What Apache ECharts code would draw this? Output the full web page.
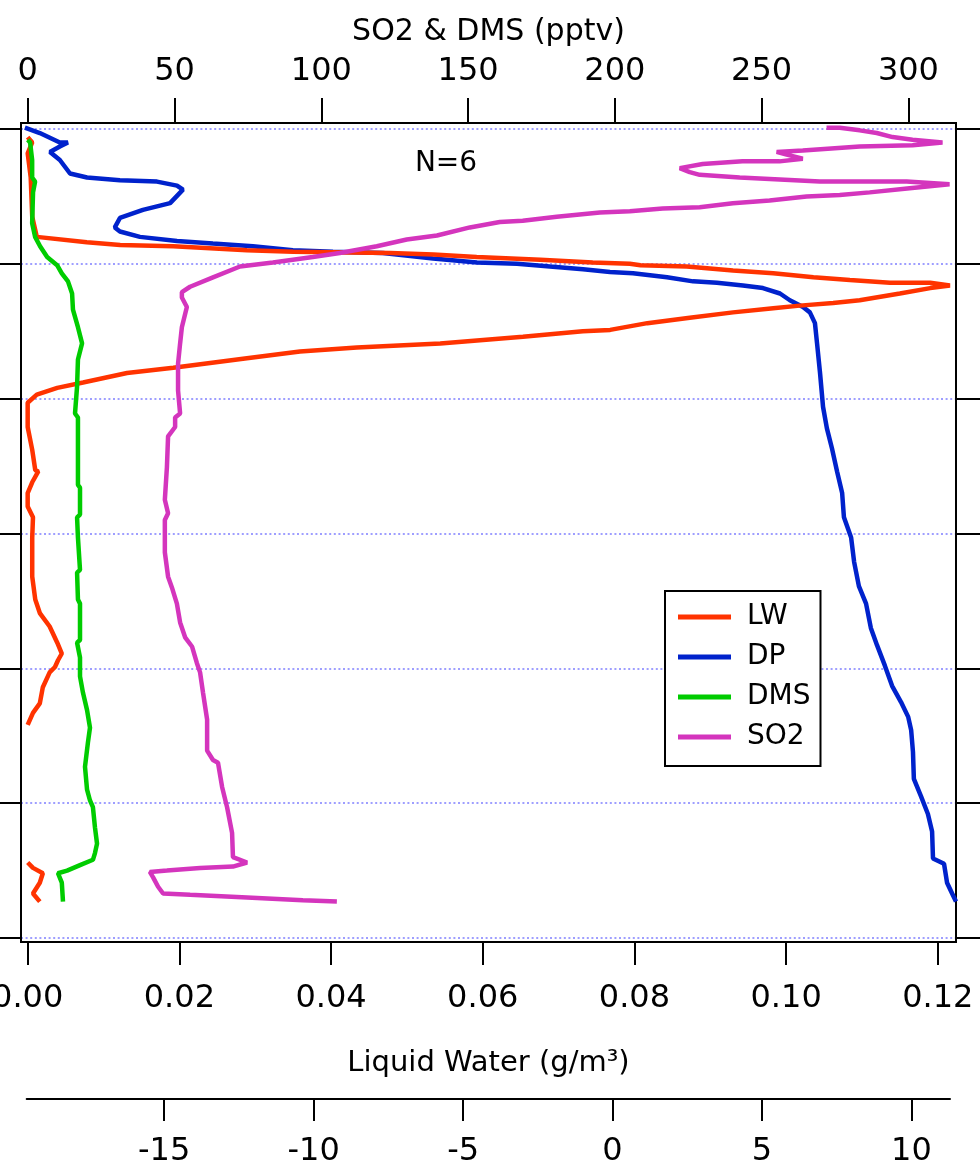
<!DOCTYPE html>
<html>
<head>
<meta charset="utf-8">
<script src="https://cdn.jsdelivr.net/npm/echarts@6/dist/echarts.min.js"></script>
<style>
html,body{margin:0;padding:0;background:#fff;}
#chart{width:980px;height:1167px;}
</style>
</head>
<body>
<div id="chart"></div>
<script>
// Profile data: [value, level] where level is the vertical position (0 = bottom gridline, 6 = top gridline)
const lwUpper = [[0.0000,5.94],[0.0006,5.90],[0.0000,5.82],[0.0004,5.64],[0.0006,5.35],[0.0012,5.20],[0.0078,5.16],[0.0122,5.14],[0.0192,5.13],[0.0289,5.10],[0.0350,5.09],[0.0478,5.08],[0.0535,5.07],[0.0592,5.05],[0.0676,5.03],[0.0745,5.01],[0.0794,5.00],[0.0808,4.99],[0.0869,4.98],[0.0930,4.95],[0.0983,4.93],[0.1036,4.90],[0.1084,4.88],[0.1137,4.86],[0.1190,4.86],[0.1216,4.84],[0.1190,4.82],[0.1150,4.78],[0.1097,4.73],[0.1062,4.71],[0.1018,4.69],[0.0983,4.67],[0.0930,4.64],[0.0873,4.60],[0.0817,4.56],[0.0768,4.51],[0.0732,4.50],[0.0653,4.46],[0.0544,4.41],[0.0434,4.38],[0.0359,4.35],[0.0289,4.30],[0.0192,4.23],[0.0131,4.19],[0.0073,4.12],[0.0039,4.08],[0.0012,4.03],[0.0000,3.97],[0.0000,3.79],[0.0006,3.62],[0.0010,3.47],[0.0014,3.46],[0.0006,3.38],[0.0000,3.30],[0.0000,3.20],[0.0007,3.12],[0.0006,2.97],[0.0006,2.68],[0.0010,2.51],[0.0016,2.41],[0.0029,2.31],[0.0039,2.19],[0.0045,2.11],[0.0040,2.06],[0.0036,2.01],[0.0029,1.97],[0.0020,1.86],[0.0016,1.74],[0.0007,1.67],[0.0000,1.58]];
const lwLower = [[0.0000,0.56],[0.0007,0.52],[0.0020,0.48],[0.0016,0.41],[0.0007,0.33],[0.0016,0.27]];
const dpData = [[-19.67,6.01],[-19.17,5.97],[-18.50,5.90],[-18.23,5.90],[-18.50,5.87],[-18.83,5.83],[-18.50,5.77],[-18.16,5.67],[-17.59,5.64],[-16.49,5.62],[-15.25,5.61],[-14.58,5.58],[-14.38,5.55],[-14.81,5.45],[-15.72,5.40],[-16.49,5.34],[-16.66,5.27],[-16.49,5.24],[-15.82,5.20],[-14.58,5.17],[-13.38,5.15],[-12.04,5.13],[-10.70,5.10],[-9.36,5.09],[-7.69,5.08],[-6.01,5.04],[-4.54,5.01],[-3.20,5.00],[-2.10,4.98],[-0.99,4.96],[-0.09,4.94],[0.68,4.93],[1.82,4.90],[2.69,4.87],[3.49,4.86],[4.36,4.84],[5.03,4.82],[5.60,4.78],[5.93,4.73],[6.37,4.68],[6.60,4.64],[6.77,4.56],[6.84,4.41],[6.94,4.19],[7.04,3.94],[7.17,3.78],[7.34,3.63],[7.51,3.46],[7.68,3.30],[7.74,3.12],[7.98,2.97],[8.08,2.79],[8.24,2.61],[8.48,2.48],[8.64,2.30],[8.85,2.17],[9.11,2.02],[9.35,1.87],[9.65,1.75],[9.89,1.64],[9.99,1.54],[10.05,1.38],[10.08,1.18],[10.32,1.05],[10.55,0.92],[10.69,0.79],[10.72,0.59],[11.09,0.55],[11.19,0.41],[11.36,0.33],[11.49,0.27]];
const dmsData = [[0.0,5.92],[0.8,5.90],[1.5,5.77],[1.5,5.64],[2.5,5.61],[1.8,5.53],[1.5,5.30],[2.5,5.20],[4.2,5.13],[6.6,5.05],[10.0,4.99],[11.6,4.93],[13.7,4.87],[15.1,4.78],[15.4,4.66],[17.1,4.53],[18.5,4.41],[17.1,4.29],[16.8,4.09],[16.1,3.89],[17.1,3.86],[17.1,3.36],[17.8,3.34],[17.8,3.14],[16.8,3.12],[17.1,2.97],[17.8,2.73],[16.8,2.71],[17.1,2.51],[17.8,2.48],[17.8,2.21],[16.8,2.19],[17.8,2.08],[17.8,1.94],[18.8,1.82],[20.2,1.69],[21.2,1.56],[20.5,1.45],[19.5,1.27],[20.2,1.10],[21.2,1.02],[22.2,0.97],[22.9,0.82],[23.6,0.70],[22.9,0.63],[22.2,0.58],[17.8,0.54],[13.4,0.50],[10.3,0.48],[11.6,0.41],[12.0,0.27]];
const so2Data = [[272.1,6.01],[276.6,6.01],[283.4,5.99],[289.2,5.97],[294.6,5.94],[301.4,5.92],[311.6,5.90],[301.4,5.88],[283.4,5.87],[264.0,5.84],[255.1,5.83],[258.5,5.81],[264.0,5.78],[256.1,5.76],[243.5,5.76],[229.9,5.74],[222.1,5.71],[225.5,5.68],[228.9,5.66],[242.5,5.64],[269.8,5.61],[299.4,5.61],[314.0,5.59],[300.4,5.56],[286.8,5.53],[276.6,5.51],[265.3,5.50],[252.7,5.47],[240.2,5.45],[228.9,5.42],[216.3,5.41],[205.1,5.39],[194.9,5.38],[180.2,5.35],[168.6,5.32],[160.8,5.31],[150.6,5.27],[139.4,5.21],[129.1,5.18],[118.9,5.13],[106.3,5.08],[97.1,5.05],[83.5,5.01],[72.3,4.98],[63.1,4.90],[55.3,4.83],[52.5,4.79],[52.5,4.75],[54.2,4.68],[52.5,4.53],[51.9,4.41],[51.2,4.26],[51.2,4.06],[51.9,3.89],[50.2,3.86],[50.2,3.79],[47.8,3.72],[47.4,3.49],[46.7,3.25],[47.8,3.15],[46.7,3.10],[46.7,2.86],[47.8,2.68],[49.1,2.60],[50.8,2.48],[51.9,2.34],[53.6,2.23],[56.0,2.16],[57.6,2.04],[58.7,1.97],[59.7,1.82],[61.1,1.62],[61.1,1.39],[63.1,1.32],[64.8,1.30],[66.2,1.12],[67.9,0.97],[69.6,0.78],[69.9,0.60],[74.7,0.56],[69.9,0.53],[58.7,0.52],[47.4,0.50],[41.6,0.49],[42.7,0.45],[44.4,0.38],[46.1,0.33],[55.3,0.32],[74.7,0.30],[93.7,0.28],[105.3,0.27]];

const so2Ticks = [0, 50, 100, 150, 200, 250, 300];
const lwTicks = [0, 0.02, 0.04, 0.06, 0.08, 0.10, 0.12];
const dpTicks = [-15, -10, -5, 0, 5, 10];
const legendNames = ['LW', 'DP', 'DMS', 'SO2'];

const FONT = 'DejaVu Sans';
const colors = {LW: '#ff3300', DP: '#0022cc', DMS: '#00cc00', SO2: '#d435bd'};

const chart = echarts.init(document.getElementById('chart'), null, {renderer: 'canvas'});
const tickStyle = {color: '#000', width: 2};
const labelStyle = {color: '#000', fontFamily: FONT, fontSize: 32};
const LINE_W = 4.5;

const option = {
  animation: false,
  backgroundColor: '#fff',
  grid: [
    {left: 21, right: 24, top: 129, bottom: 229, show: false, containLabel: false, outerBoundsMode: 'none'},
    {left: 21, right: 24, top: 123, bottom: 225, show: true, borderColor: '#000', borderWidth: 2, backgroundColor: 'transparent', z: 1, containLabel: false, outerBoundsMode: 'none'},
    {left: 26.7, right: 30, top: 1098, bottom: 68, show: false, containLabel: false, outerBoundsMode: 'none'}
  ],
  xAxis: [
    { // Liquid water (bottom)
      gridIndex: 0, type: 'value', position: 'bottom', offset: 4,
      min: -0.00088, max: 0.1224,
      axisLine: {show: false, onZero: false},
      axisTick: {show: true, length: 23, lineStyle: tickStyle, customValues: lwTicks},
      axisLabel: {show: true, margin: 41, ...labelStyle, customValues: lwTicks, formatter: v => v.toFixed(2)},
      splitLine: {show: false},
      name: 'Liquid Water (g/m³)', nameLocation: 'middle', nameGap: 107,
      nameTextStyle: {color: '#000', fontFamily: FONT, fontSize: 29}
    },
    { // SO2 & DMS (top)
      gridIndex: 0, type: 'value', position: 'top', offset: 6,
      min: -2.3, max: 316.2,
      axisLine: {show: false, onZero: false},
      axisTick: {show: true, length: 25, lineStyle: tickStyle, customValues: so2Ticks},
      axisLabel: {show: true, margin: 35, ...labelStyle, customValues: so2Ticks},
      splitLine: {show: false},
      name: 'SO2 & DMS (pptv)', nameLocation: 'middle', nameGap: 76,
      nameTextStyle: {color: '#000', fontFamily: FONT, fontSize: 30}
    },
    { // DP data axis (hidden, matches the lower DP scale)
      gridIndex: 0, type: 'value', show: false, min: -19.80, max: 11.49,
      axisLine: {onZero: false}
    },
    {gridIndex: 1, type: 'value', show: false, min: 0, max: 1, axisLine: {onZero: false}},
    { // DP visible axis
      gridIndex: 2, type: 'value', position: 'bottom',
      min: -19.6, max: 11.29,
      axisLine: {show: true, onZero: false, lineStyle: {color: '#000', width: 2}},
      axisTick: {show: true, length: 22, lineStyle: tickStyle, customValues: dpTicks},
      axisLabel: {show: true, margin: 37, ...labelStyle, customValues: dpTicks},
      splitLine: {show: false}
    }
  ],
  yAxis: [
    {
      gridIndex: 0, type: 'value', position: 'left', min: 0, max: 6, interval: 1,
      axisLine: {show: false, onZero: false},
      axisTick: {show: true, length: 21, lineStyle: tickStyle},
      axisLabel: {show: false},
      splitLine: {show: true, lineStyle: {color: '#7f7fff', width: 1.5, type: [2, 2.6]}}
    },
    {
      gridIndex: 0, type: 'value', position: 'right', min: 0, max: 6, interval: 1,
      axisLine: {show: false, onZero: false},
      axisTick: {show: true, length: 26, lineStyle: tickStyle},
      axisLabel: {show: false},
      splitLine: {show: false}
    },
    {gridIndex: 1, type: 'value', show: false, min: 0, max: 1, axisLine: {onZero: false}},
    {gridIndex: 2, type: 'value', show: false, min: 0, max: 1, axisLine: {onZero: false}}
  ],
  legend: {
    data: legendNames,
    orient: 'vertical',
    left: 665, top: 591,
    padding: [12, 10, 15, 13],
    itemGap: 12,
    itemWidth: 53, itemHeight: 5,
    icon: 'rect',
    backgroundColor: '#fff',
    borderColor: '#000', borderWidth: 2, borderRadius: 0,
    selectedMode: false,
    textStyle: {color: '#000', fontFamily: FONT, fontSize: 28, padding: [0, 0, 0, 11]},
    z: 10
  },
  graphic: [
    {type: 'text', x: 446, y: 164, z: 5,
     style: {text: 'N=6', fill: '#000', font: '28px "DejaVu Sans"', textAlign: 'center', textVerticalAlign: 'middle'}}
  ],
  series: [
    {name: 'DP', type: 'line', xAxisIndex: 2, yAxisIndex: 0, data: dpData, symbol: 'none', clip: false,
     lineStyle: {color: colors.DP, width: LINE_W}, itemStyle: {color: colors.DP}, z: 2},
    {name: 'LW', type: 'line', xAxisIndex: 0, yAxisIndex: 0, data: lwUpper, symbol: 'none', clip: false,
     lineStyle: {color: colors.LW, width: LINE_W}, itemStyle: {color: colors.LW}, z: 3},
    {name: 'LW', type: 'line', xAxisIndex: 0, yAxisIndex: 0, data: lwLower, symbol: 'none', clip: false,
     lineStyle: {color: colors.LW, width: LINE_W}, itemStyle: {color: colors.LW}, z: 3},
    {name: 'DMS', type: 'line', xAxisIndex: 1, yAxisIndex: 0, data: dmsData, symbol: 'none', clip: false,
     lineStyle: {color: colors.DMS, width: LINE_W}, itemStyle: {color: colors.DMS}, z: 4},
    {name: 'SO2', type: 'line', xAxisIndex: 1, yAxisIndex: 0, data: so2Data, symbol: 'none', clip: false,
     lineStyle: {color: colors.SO2, width: LINE_W}, itemStyle: {color: colors.SO2}, z: 5}
  ]
};
chart.setOption(option);
</script>
</body>
</html>
